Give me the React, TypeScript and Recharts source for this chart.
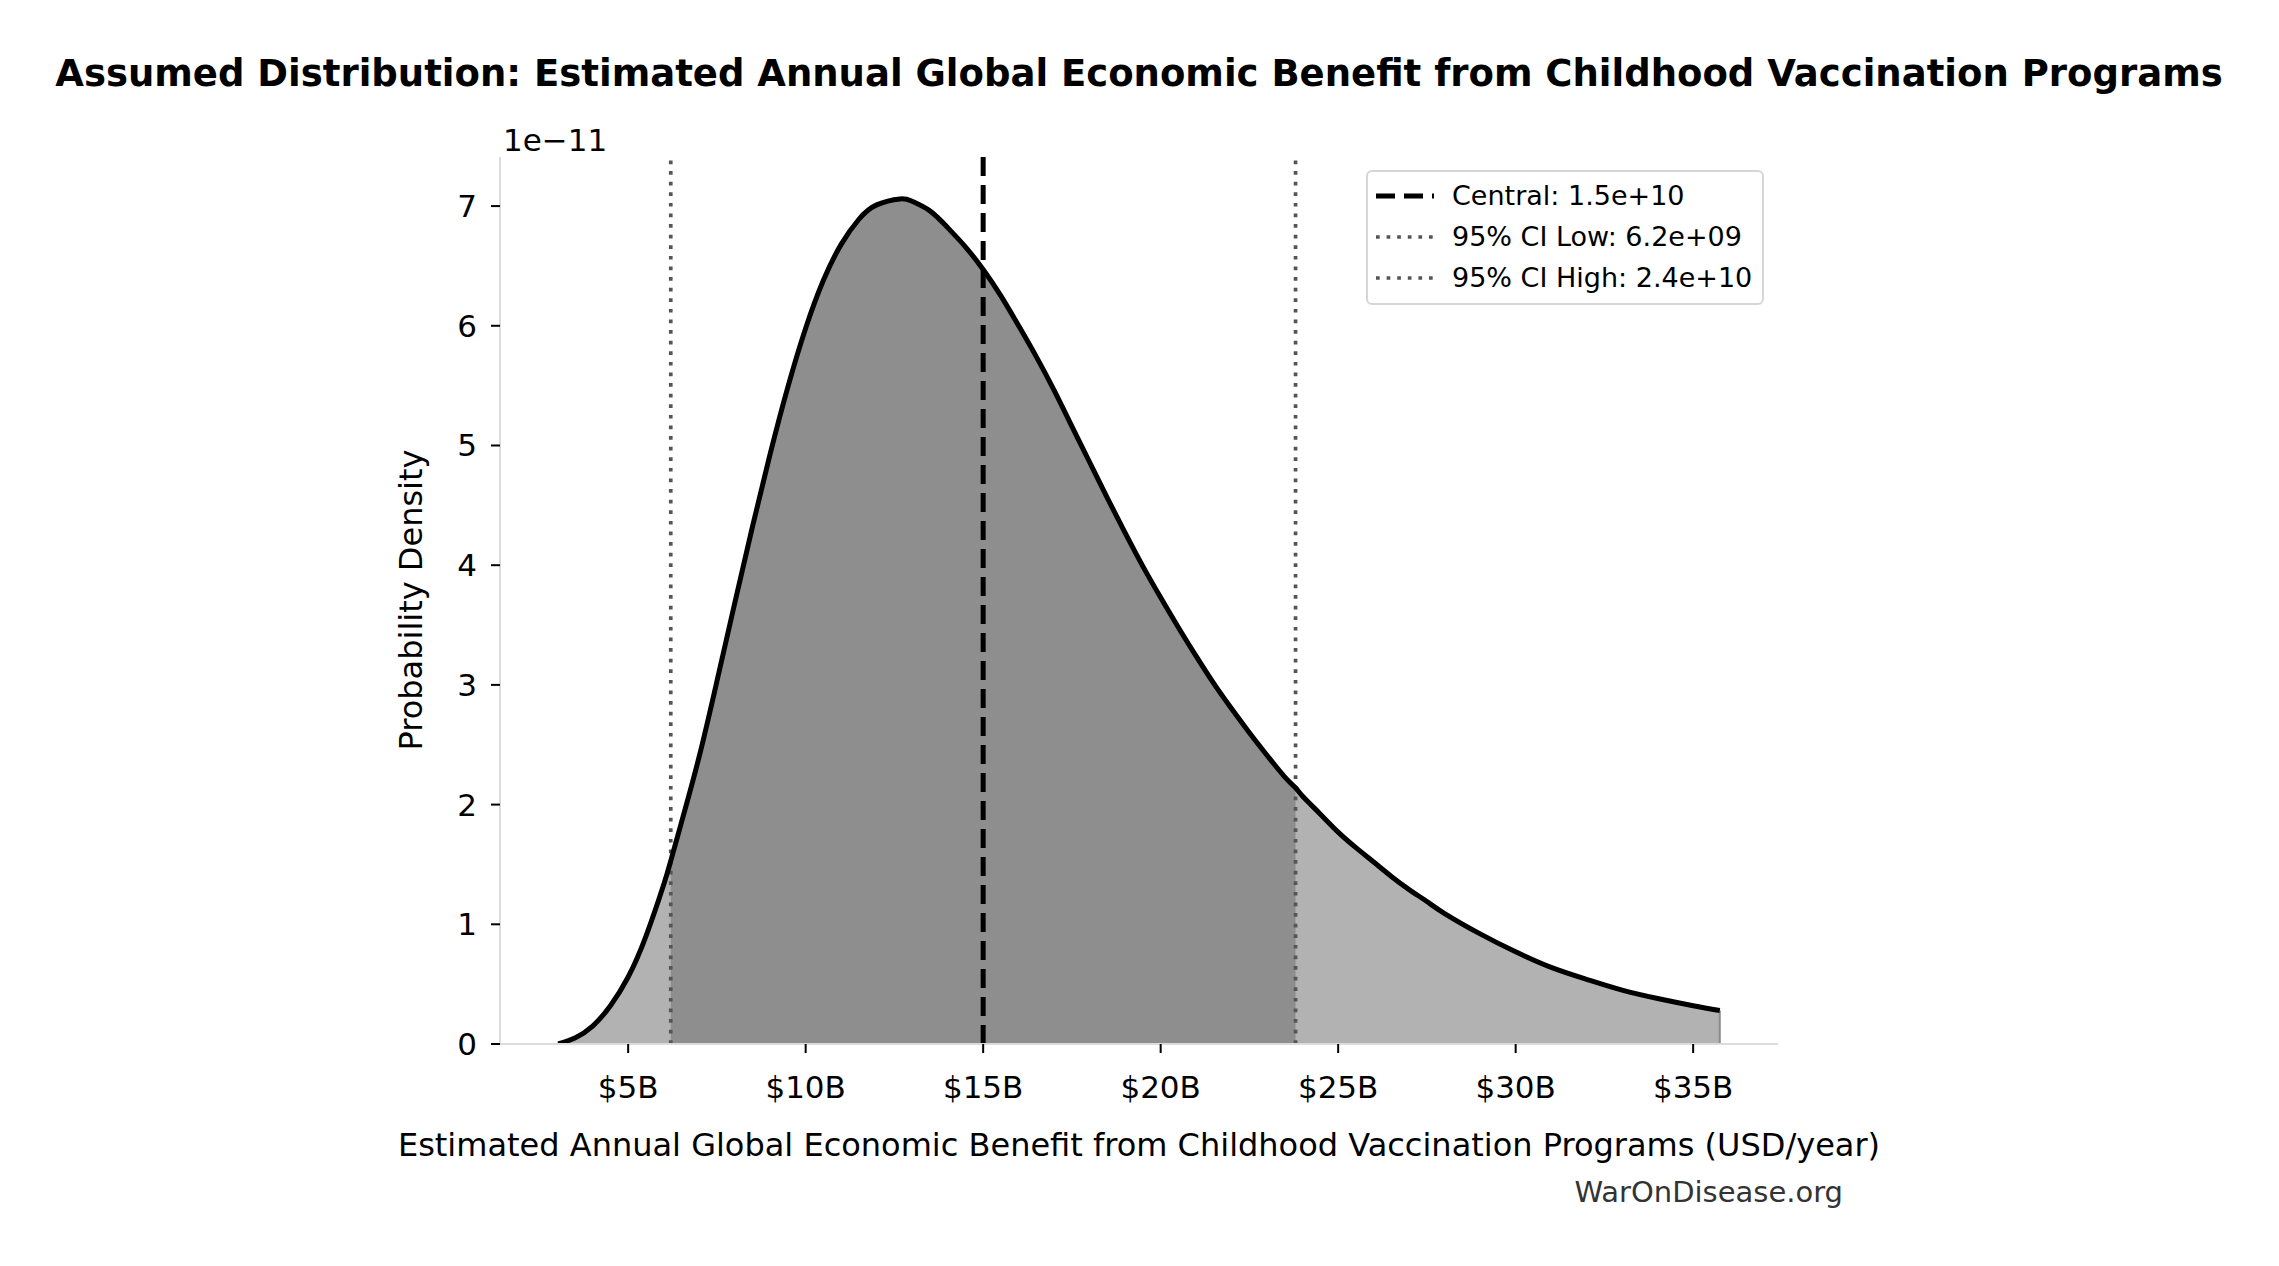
import { ComposedChart, Area, Line, XAxis, YAxis, ReferenceLine } from 'recharts'

// x in billions of USD/year, density in units of 1e-11
const benefitB = [
  3.03, 3.5, 4.0, 4.5, 5.0, 5.5, 6.0, 6.2, 6.5, 7.0, 7.5, 8.0, 8.5, 9.0, 9.5, 10.0, 10.5, 11.0, 11.5, 12.0,
  12.66, 13.0, 13.5, 14.0, 14.5, 15.0, 15.5, 16.0, 16.5, 17.0, 17.5, 18.0, 18.5, 19.0, 19.5, 20.0, 20.5,
  21.0, 21.5, 22.0, 22.5, 23.0, 23.5, 23.8, 24.0, 24.5, 25.0, 25.5, 26.0, 26.5, 27.0, 27.5, 28.0, 29.0,
  30.0, 31.0, 32.0, 33.0, 34.0, 35.0, 35.75,
]
const density = [
  0.0, 0.05, 0.15, 0.32, 0.56, 0.9, 1.33, 1.53, 1.85, 2.4, 3.03, 3.68, 4.32, 4.93, 5.49, 5.98, 6.38, 6.68, 6.89, 7.01,
  7.06, 7.04, 6.96, 6.82, 6.66, 6.47, 6.25, 6.0, 5.74, 5.46, 5.16, 4.86, 4.56, 4.27, 3.99, 3.73, 3.48,
  3.24, 3.01, 2.8, 2.6, 2.41, 2.23, 2.14, 2.07, 1.92, 1.77, 1.64, 1.52, 1.4, 1.29, 1.19, 1.09, 0.92,
  0.77, 0.64, 0.54, 0.45, 0.38, 0.32, 0.28,
]
const central = 15.0
const ciLow = 6.2
const ciHigh = 23.8
const xTicks = [5, 10, 15, 20, 25, 30, 35]
const yTicks = [0, 1, 2, 3, 4, 5, 6, 7]
const legendItems = [
  { label: 'Central: 1.5e+10', kind: 'dash' },
  { label: '95% CI Low: 6.2e+09', kind: 'dot' },
  { label: '95% CI High: 2.4e+10', kind: 'dot' },
]

const font = '"DejaVu Sans", sans-serif'
const dashCentral = '19 9'
const dashCi = '3.7 6.9'

const rows = benefitB.map((x, i) => ({
  x,
  pdf: density[i],
  ci: x >= ciLow && x <= ciHigh ? density[i] : null,
}))
const last = rows[rows.length - 1]

const LegendBox = () => (
  <div
    style={{
      position: 'absolute',
      left: 1366,
      top: 170,
      border: '2px solid #d6d6d6',
      borderRadius: 6,
      background: '#fff',
      padding: '3px 10px 5px 8px',
      fontFamily: font,
      fontSize: 27,
      color: '#000',
      whiteSpace: 'nowrap',
    }}
  >
    {legendItems.map(it => (
      <div key={it.label} style={{ display: 'flex', alignItems: 'center', height: 41 }}>
        <svg width={58} height={10} style={{ marginRight: 18 }}>
          {it.kind === 'dash' ? (
            <line x1={0} y1={5} x2={58} y2={5} stroke="#000" strokeWidth={5} strokeDasharray={dashCentral} />
          ) : (
            <line x1={0} y1={5} x2={58} y2={5} stroke="#555" strokeWidth={3.7} strokeDasharray={dashCi} />
          )}
        </svg>
        <span>{it.label}</span>
      </div>
    ))}
  </div>
)

const txt = (style: React.CSSProperties) => ({
  position: 'absolute' as const,
  fontFamily: font,
  whiteSpace: 'nowrap' as const,
  ...style,
})

export default function App() {
  return (
    <div style={{ position: 'absolute', left: 0, top: 0, width: 2279, height: 1266, background: '#fff' }}>
      <ComposedChart
        width={2279}
        height={1266}
        data={rows}
        margin={{ top: 157, left: 420, right: 501, bottom: 162 }}
        style={{ position: 'absolute', left: 0, top: 0 }}
      >
        <XAxis
          dataKey="x"
          type="number"
          domain={[1.39, 37.39]}
          ticks={xTicks}
          allowDataOverflow
          height={60}
          tickFormatter={v => `$${v}B`}
          tick={{ fill: '#000', fontSize: 31, fontFamily: font }}
          axisLine={{ stroke: '#dcdcdc', strokeWidth: 2 }}
          tickLine={{ stroke: '#000', strokeWidth: 2 }}
          tickSize={9}
          tickMargin={23}
        />
        <YAxis
          type="number"
          domain={[0, 7.41]}
          ticks={yTicks}
          allowDataOverflow
          width={80}
          tick={{ fill: '#000', fontSize: 31, fontFamily: font }}
          axisLine={{ stroke: '#dcdcdc', strokeWidth: 2 }}
          tickLine={{ stroke: '#000', strokeWidth: 2 }}
          tickSize={9}
          tickMargin={14}
        />
        <Area type="natural" dataKey="pdf" stroke="none" fill="#b2b2b2" fillOpacity={1} isAnimationActive={false} />
        <Area type="natural" dataKey="ci" stroke="none" fill="#8e8e8e" fillOpacity={1} isAnimationActive={false} />
        <ReferenceLine
          segment={[{ x: last.x, y: 0 }, { x: last.x, y: last.pdf }]}
          stroke="#8a8a8a"
          strokeWidth={2}
        />
        <ReferenceLine x={ciLow} stroke="#555" strokeWidth={3.7} strokeDasharray={dashCi} />
        <ReferenceLine x={ciHigh} stroke="#555" strokeWidth={3.7} strokeDasharray={dashCi} />
        <ReferenceLine x={central} stroke="#000" strokeWidth={5} strokeDasharray={dashCentral} />
        <Line type="natural" dataKey="pdf" stroke="#000" strokeWidth={5} dot={false} isAnimationActive={false} />
      </ComposedChart>

      <div style={txt({ left: 1139, top: 73, transform: 'translate(-50%,-50%)', fontSize: 37, fontWeight: 'bold' })}>
        Assumed Distribution: Estimated Annual Global Economic Benefit from Childhood Vaccination Programs
      </div>
      <div style={txt({ left: 503, top: 140, transform: 'translateY(-50%)', fontSize: 31 })}>1e−11</div>
      <div
        style={txt({ left: 411, top: 600, transform: 'translate(-50%,-50%) rotate(-90deg)', fontSize: 32 })}
      >
        Probability Density
      </div>
      <div style={txt({ left: 1139, top: 1145, transform: 'translate(-50%,-50%)', fontSize: 32 })}>
        Estimated Annual Global Economic Benefit from Childhood Vaccination Programs (USD/year)
      </div>
      <div style={txt({ right: 2279 - 1843, top: 1192, transform: 'translateY(-50%)', fontSize: 29, color: '#333' })}>
        WarOnDisease.org
      </div>
      <LegendBox />
    </div>
  )
}
